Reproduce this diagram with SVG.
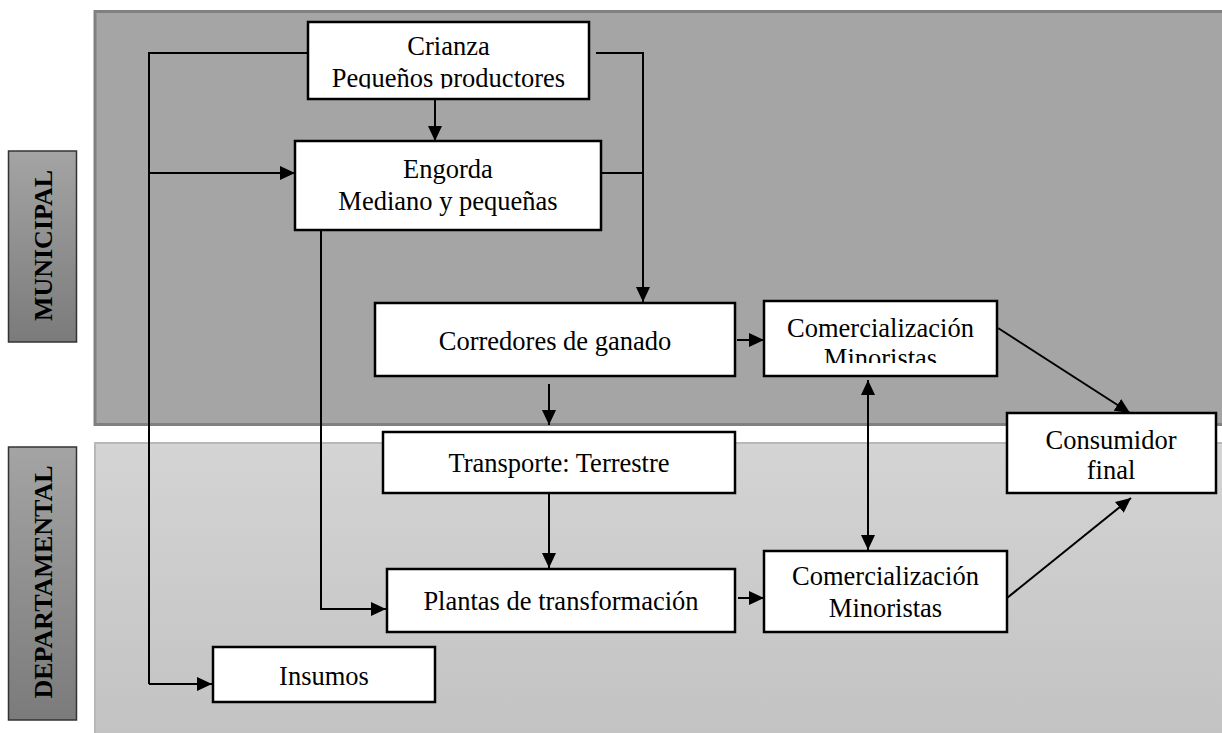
<svg xmlns="http://www.w3.org/2000/svg" width="1222" height="733" viewBox="0 0 1222 733">
<style>
.node rect{fill:#fff;stroke:#000;stroke-width:2.5}
.node text{font-family:"Liberation Serif","Times New Roman",serif;font-size:26.5px;fill:#000;text-anchor:middle}
.lbl text{font-family:"Liberation Serif","Times New Roman",serif;font-size:26px;font-weight:bold;fill:#000;text-anchor:middle}
.lbl rect{fill:url(#lblg);stroke:#333;stroke-width:1.5}
#connectors path{fill:none;stroke:#000;stroke-width:2}
</style>
<defs>
<linearGradient id="lblg" x1="0" y1="0" x2="0" y2="1">
<stop offset="0" stop-color="#a4a4a4"/>
<stop offset="1" stop-color="#7b7b7b"/>
</linearGradient>
<linearGradient id="botg" x1="0" y1="0" x2="0" y2="1">
<stop offset="0" stop-color="#d4d4d4"/>
<stop offset="1" stop-color="#c2c2c2"/>
</linearGradient>
<marker id="ah" viewBox="0 0 15 14" refX="15" refY="7" markerWidth="15" markerHeight="14" markerUnits="userSpaceOnUse" orient="auto-start-reverse">
<path d="M0,0 L15,7 L0,14 z" fill="#000"/>
</marker>
<clipPath id="clipCrianza"><rect x="300" y="15" width="300" height="73.5"/></clipPath>
<clipPath id="clipComU"><rect x="760" y="295" width="240" height="68"/></clipPath>
</defs>

<g id="panels">
<rect x="95" y="11.5" width="1140" height="413" fill="#a5a5a5" stroke="#808080" stroke-width="3"/>
<rect x="95" y="443" width="1140" height="300" fill="url(#botg)" stroke="#b8b8b8" stroke-width="2"/>
</g>

<g id="label-municipal" class="lbl">
<rect x="8.5" y="151" width="68" height="191"/>
<text transform="translate(52,245.5) rotate(-90)">MUNICIPAL</text>
</g>
<g id="label-departamental" class="lbl">
<rect x="8.5" y="447" width="68" height="273"/>
<text transform="translate(52,582) rotate(-90)">DEPARTAMENTAL</text>
</g>

<g id="connectors">
<path d="M308,53 H149 V684"/>
<path d="M149,173 H295" marker-end="url(#ah)"/>
<path d="M149,684 H212" marker-end="url(#ah)"/>
<path d="M435,99 V141" marker-end="url(#ah)"/>
<path d="M596,53 H643 V302" marker-end="url(#ah)"/>
<path d="M601,173 H643"/>
<path d="M321,230 V609 H386" marker-end="url(#ah)"/>
<path d="M549,384 V425" marker-end="url(#ah)"/>
<path d="M549,493 V568" marker-end="url(#ah)"/>
<path d="M737,340 H764" marker-end="url(#ah)"/>
<path d="M738,598 H764" marker-end="url(#ah)"/>
<path d="M868,380 V550" marker-start="url(#ah)" marker-end="url(#ah)"/>
<path d="M998,328 L1130,413" marker-end="url(#ah)"/>
<path d="M1007,598 L1131,498" marker-end="url(#ah)"/>
</g>

<g id="node-crianza" class="node">
<rect x="308" y="22" width="281" height="77"/>
<g clip-path="url(#clipCrianza)">
<text x="448.5" y="55">Crianza</text>
<text x="448.5" y="87">Pequeños productores</text>
</g>
</g>
<g id="node-engorda" class="node">
<rect x="295" y="141" width="306" height="89"/>
<text x="448" y="178">Engorda</text>
<text x="448" y="210">Mediano y pequeñas</text>
</g>
<g id="node-corredores" class="node">
<rect x="375" y="303" width="360" height="73"/>
<text x="555" y="350">Corredores de ganado</text>
</g>
<g id="node-comercializacion-municipal" class="node">
<rect x="764" y="301" width="233" height="75"/>
<g clip-path="url(#clipComU)">
<text x="880.5" y="337">Comercialización</text>
<text x="880.5" y="367">Minoristas</text>
</g>
</g>
<g id="node-transporte" class="node">
<rect x="383" y="432" width="352" height="61"/>
<text x="559" y="472">Transporte: Terrestre</text>
</g>
<g id="node-plantas" class="node">
<rect x="387" y="569" width="348" height="63"/>
<text x="561" y="610">Plantas de transformación</text>
</g>
<g id="node-comercializacion-departamental" class="node">
<rect x="764" y="551" width="243" height="81"/>
<text x="885.5" y="585">Comercialización</text>
<text x="885.5" y="617">Minoristas</text>
</g>
<g id="node-consumidor" class="node">
<rect x="1007" y="413" width="209" height="80"/>
<text x="1111" y="449">Consumidor</text>
<text x="1111" y="479">final</text>
</g>
<g id="node-insumos" class="node">
<rect x="213" y="647" width="222" height="55"/>
<text x="324" y="685">Insumos</text>
</g>
</svg>
